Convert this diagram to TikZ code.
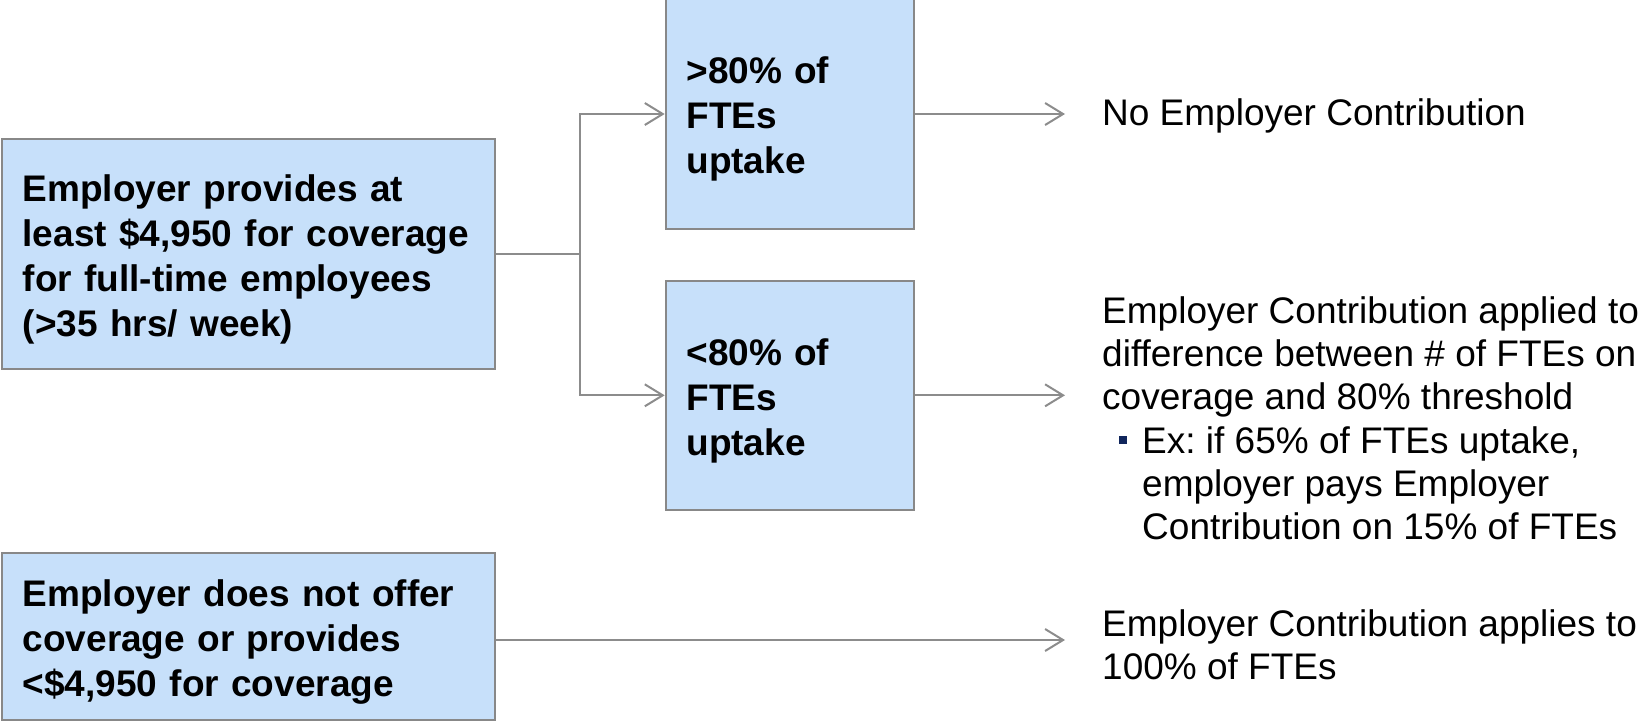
\documentclass[tikz,border=0pt]{standalone}
\usepackage{fontspec}
\setmainfont{Liberation Sans}
\usetikzlibrary{arrows.meta}
\frenchspacing

\definecolor{boxfill}{RGB}{199,224,250}
\definecolor{boxline}{RGB}{136,136,136}
\definecolor{linkgray}{RGB}{140,140,140}
\definecolor{bulletnavy}{RGB}{16,38,92}

\tikzset{
  condbox/.style={draw=boxline, fill=boxfill, line width=2pt, rectangle,
    align=left, inner xsep=20.7pt, inner ysep=0pt,
    execute at begin node={\rule{0pt}{37.5pt}},
    font=\bfseries\fontsize{37}{45}\selectfont},
  wide/.style={condbox, text width=451.6pt},
  narrow/.style={condbox, text width=207.2pt},
  link/.style={draw=linkgray, line width=2pt},
  arr/.style={link, -{Straight Barb[length=18pt,width=22pt]}},
  outcome/.style={inner sep=0pt, font=\fontsize{37}{43.3}\selectfont}
}

\begin{document}
\begin{tikzpicture}[x=1pt, y=-1pt]
  \useasboundingbox (0,0) rectangle (1646,721);

  % condition boxes
  \node[wide, minimum height=230pt] (full) at (248.5,254.3)
    {Employer provides at\\least \$4,950 for coverage\\for full-time employees\\(>35 hrs/ week)};
  \node[wide, minimum height=166.7pt] (none) at (248.5,636.7)
    {Employer does not offer\\coverage or provides\\<\$4,950 for coverage};
  \node[narrow, minimum height=230pt] (high) at (790,114)
    {>80\% of\\FTEs\\uptake};
  \node[narrow, minimum height=229.3pt] (low) at (790,395.3)
    {<80\% of\\FTEs\\uptake};

  % branch point and arrow ends
  \coordinate (split) at (580.3,254.3);
  \coordinate (tipA) at (1065,114);
  \coordinate (tipB) at (1065,395.3);
  \coordinate (tipC) at (1065,640);

  % connectors
  \draw[link] (full.east) -- (split);
  \draw[arr] (split) |- (high.west);
  \draw[arr] (split) |- (low.west);
  \draw[arr] (high.east) -- (tipA);
  \draw[arr] (low.east) -- (tipB);
  \draw[arr] (none.east |- tipC) -- (tipC);

  % outcomes
  \node[outcome, anchor=base west] (resA) at (1102,125)
    {No Employer Contribution};
  \node[outcome, anchor=base west] (resB) at (1102,323.3)
    {\vtop{\hbox{Employer Contribution applied to}\hbox{difference between \# of FTEs on}\hbox{coverage and 80\% threshold}}};
  \node[outcome, anchor=base west] (resBex) at (1142,453.3)
    {\vtop{\hbox{Ex: if 65\% of FTEs uptake,}\hbox{employer pays Employer}\hbox{Contribution on 15\% of FTEs}}};
  \node[fill=bulletnavy, inner sep=0pt, minimum size=8pt] (dot) at (1123,440) {};
  \node[outcome, anchor=base west] (resC) at (1102,636.5)
    {\vtop{\hbox{Employer Contribution applies to}\hbox{100\% of FTEs}}};
\end{tikzpicture}
\end{document}
